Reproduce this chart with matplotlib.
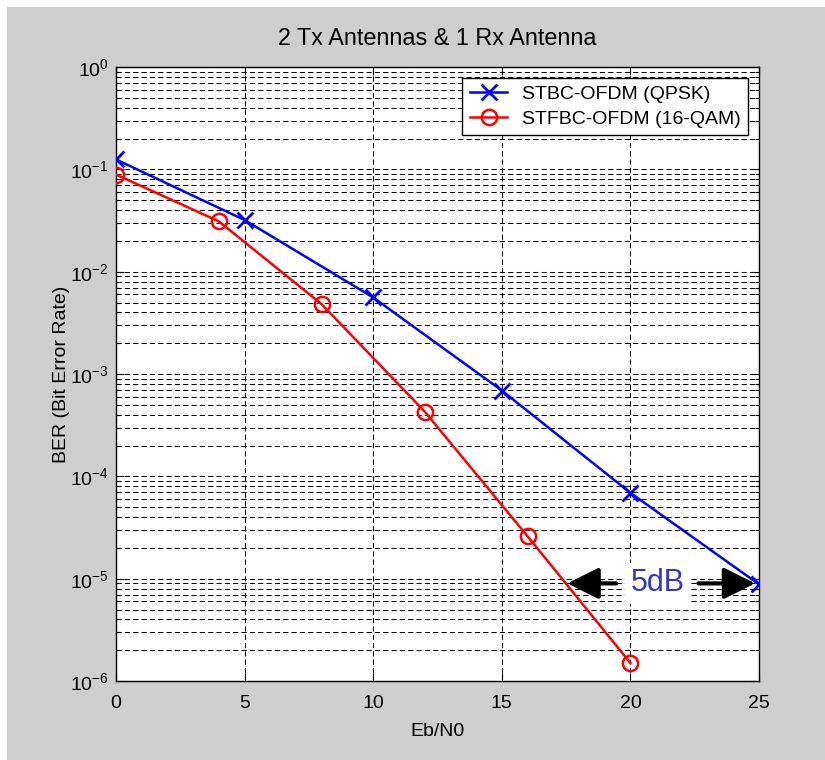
import matplotlib
matplotlib.use("Agg")
import matplotlib.pyplot as plt
from matplotlib.patches import Rectangle
from matplotlib.ticker import NullFormatter

# Data
ebn0_qpsk = [0, 5, 10, 15, 20, 25]
ber_qpsk = [0.125, 0.032, 5.6e-3, 6.9e-4, 6.9e-5, 8.8e-6]

ebn0_16qam = [0, 4, 8, 12, 16, 20]
ber_16qam = [0.089, 0.031, 4.8e-3, 4.3e-4, 2.6e-5, 1.5e-6]

labels = ['STBC-OFDM (QPSK)', 'STFBC-OFDM (16-QAM)']

# annotation for the 5 dB gap
gap_text = '5dB'
gap_y = 9e-6
gap_text_x = 21.05
gap_left = (19.45, 17.55)   # (shaft start, arrow tip)
gap_right = (22.65, 24.85)

# Style
plt.rcParams['font.family'] = ['Liberation Sans', 'DejaVu Sans']
plt.rcParams['font.size'] = 14
plt.rcParams['mathtext.fontset'] = 'custom'
plt.rcParams['mathtext.rm'] = 'Liberation Sans'
plt.rcParams['mathtext.it'] = 'Liberation Sans'
plt.rcParams['axes.unicode_minus'] = False

fig = plt.figure(figsize=(8.25, 7.6), dpi=100, facecolor='#cecece')
# thin white strip along the top and left edge, as in the screenshot
fig.patches.append(Rectangle((0, 1 - 7 / 760), 1, 7 / 760, transform=fig.transFigure,
                             facecolor='white', edgecolor='none'))
fig.patches.append(Rectangle((0, 0), 7 / 825, 1, transform=fig.transFigure,
                             facecolor='white', edgecolor='none'))

ax = fig.add_axes([0.1406, 0.1039, 0.7794, 0.8079])
ax.set_facecolor('white')

ax.semilogy(ebn0_qpsk, ber_qpsk, color='blue', lw=1.8, marker='x', ms=11, mew=2,
            label=labels[0], zorder=5)
ax.semilogy(ebn0_16qam, ber_16qam, color='red', lw=1.8, marker='o', ms=11, mew=1.8,
            mfc='none', label=labels[1], zorder=5)

ax.set_xlim(0, 25)
ax.set_ylim(1e-6, 1)
ax.set_xticks([0, 5, 10, 15, 20, 25])
decades = range(-6, 1)
ax.set_yticks([10.0 ** k for k in decades])
ax.set_yticks([m * 10.0 ** k for k in range(-6, 0) for m in range(2, 10)], minor=True)
ax.yaxis.set_minor_formatter(NullFormatter())
ax.set_ylim(1e-6, 1)

dash = (0, (5, 3))
ax.grid(True, which='major', axis='both', color='black', lw=0.75, linestyle=dash)
ax.grid(True, which='minor', axis='y', color='black', lw=0.75, linestyle=dash)
ax.set_axisbelow(True)

ax.tick_params(which='both', direction='in', top=True, right=True)
ax.tick_params(which='major', length=6, width=0.8)
ax.tick_params(which='minor', length=3, width=0.8)
ax.tick_params(axis='x', pad=10)
ax.tick_params(axis='y', pad=5)
for s in ax.spines.values():
    s.set_linewidth(1.0)

ax.set_title('2 Tx Antennas & 1 Rx Antenna', pad=16)
ax.set_xlabel('Eb/N0', labelpad=8)
ax.set_ylabel('BER (Bit Error Rate)', labelpad=0)

leg = ax.legend(loc='upper right', fancybox=False, framealpha=1, edgecolor='black',
                borderaxespad=0.55, handlelength=1.9, handletextpad=0.75,
                labelspacing=0.35, borderpad=0.4)
leg.get_frame().set_linewidth(1.0)

# 5 dB gap annotation
ax.text(gap_text_x, gap_y, gap_text, color='#3434c8', fontsize=22, ha='center',
        va='center', zorder=6,
        bbox=dict(facecolor='white', edgecolor='none', pad=4))
arrow = dict(arrowstyle='-|>,head_length=0.6,head_width=0.3', color='black', lw=3,
             mutation_scale=32, shrinkA=0, shrinkB=0)
ax.annotate('', xy=(gap_left[1], gap_y), xytext=(gap_left[0], gap_y),
            arrowprops=arrow, zorder=6)
ax.annotate('', xy=(gap_right[1], gap_y), xytext=(gap_right[0], gap_y),
            arrowprops=arrow, zorder=6)

fig.savefig('out.png', dpi=100, facecolor=fig.get_facecolor())
